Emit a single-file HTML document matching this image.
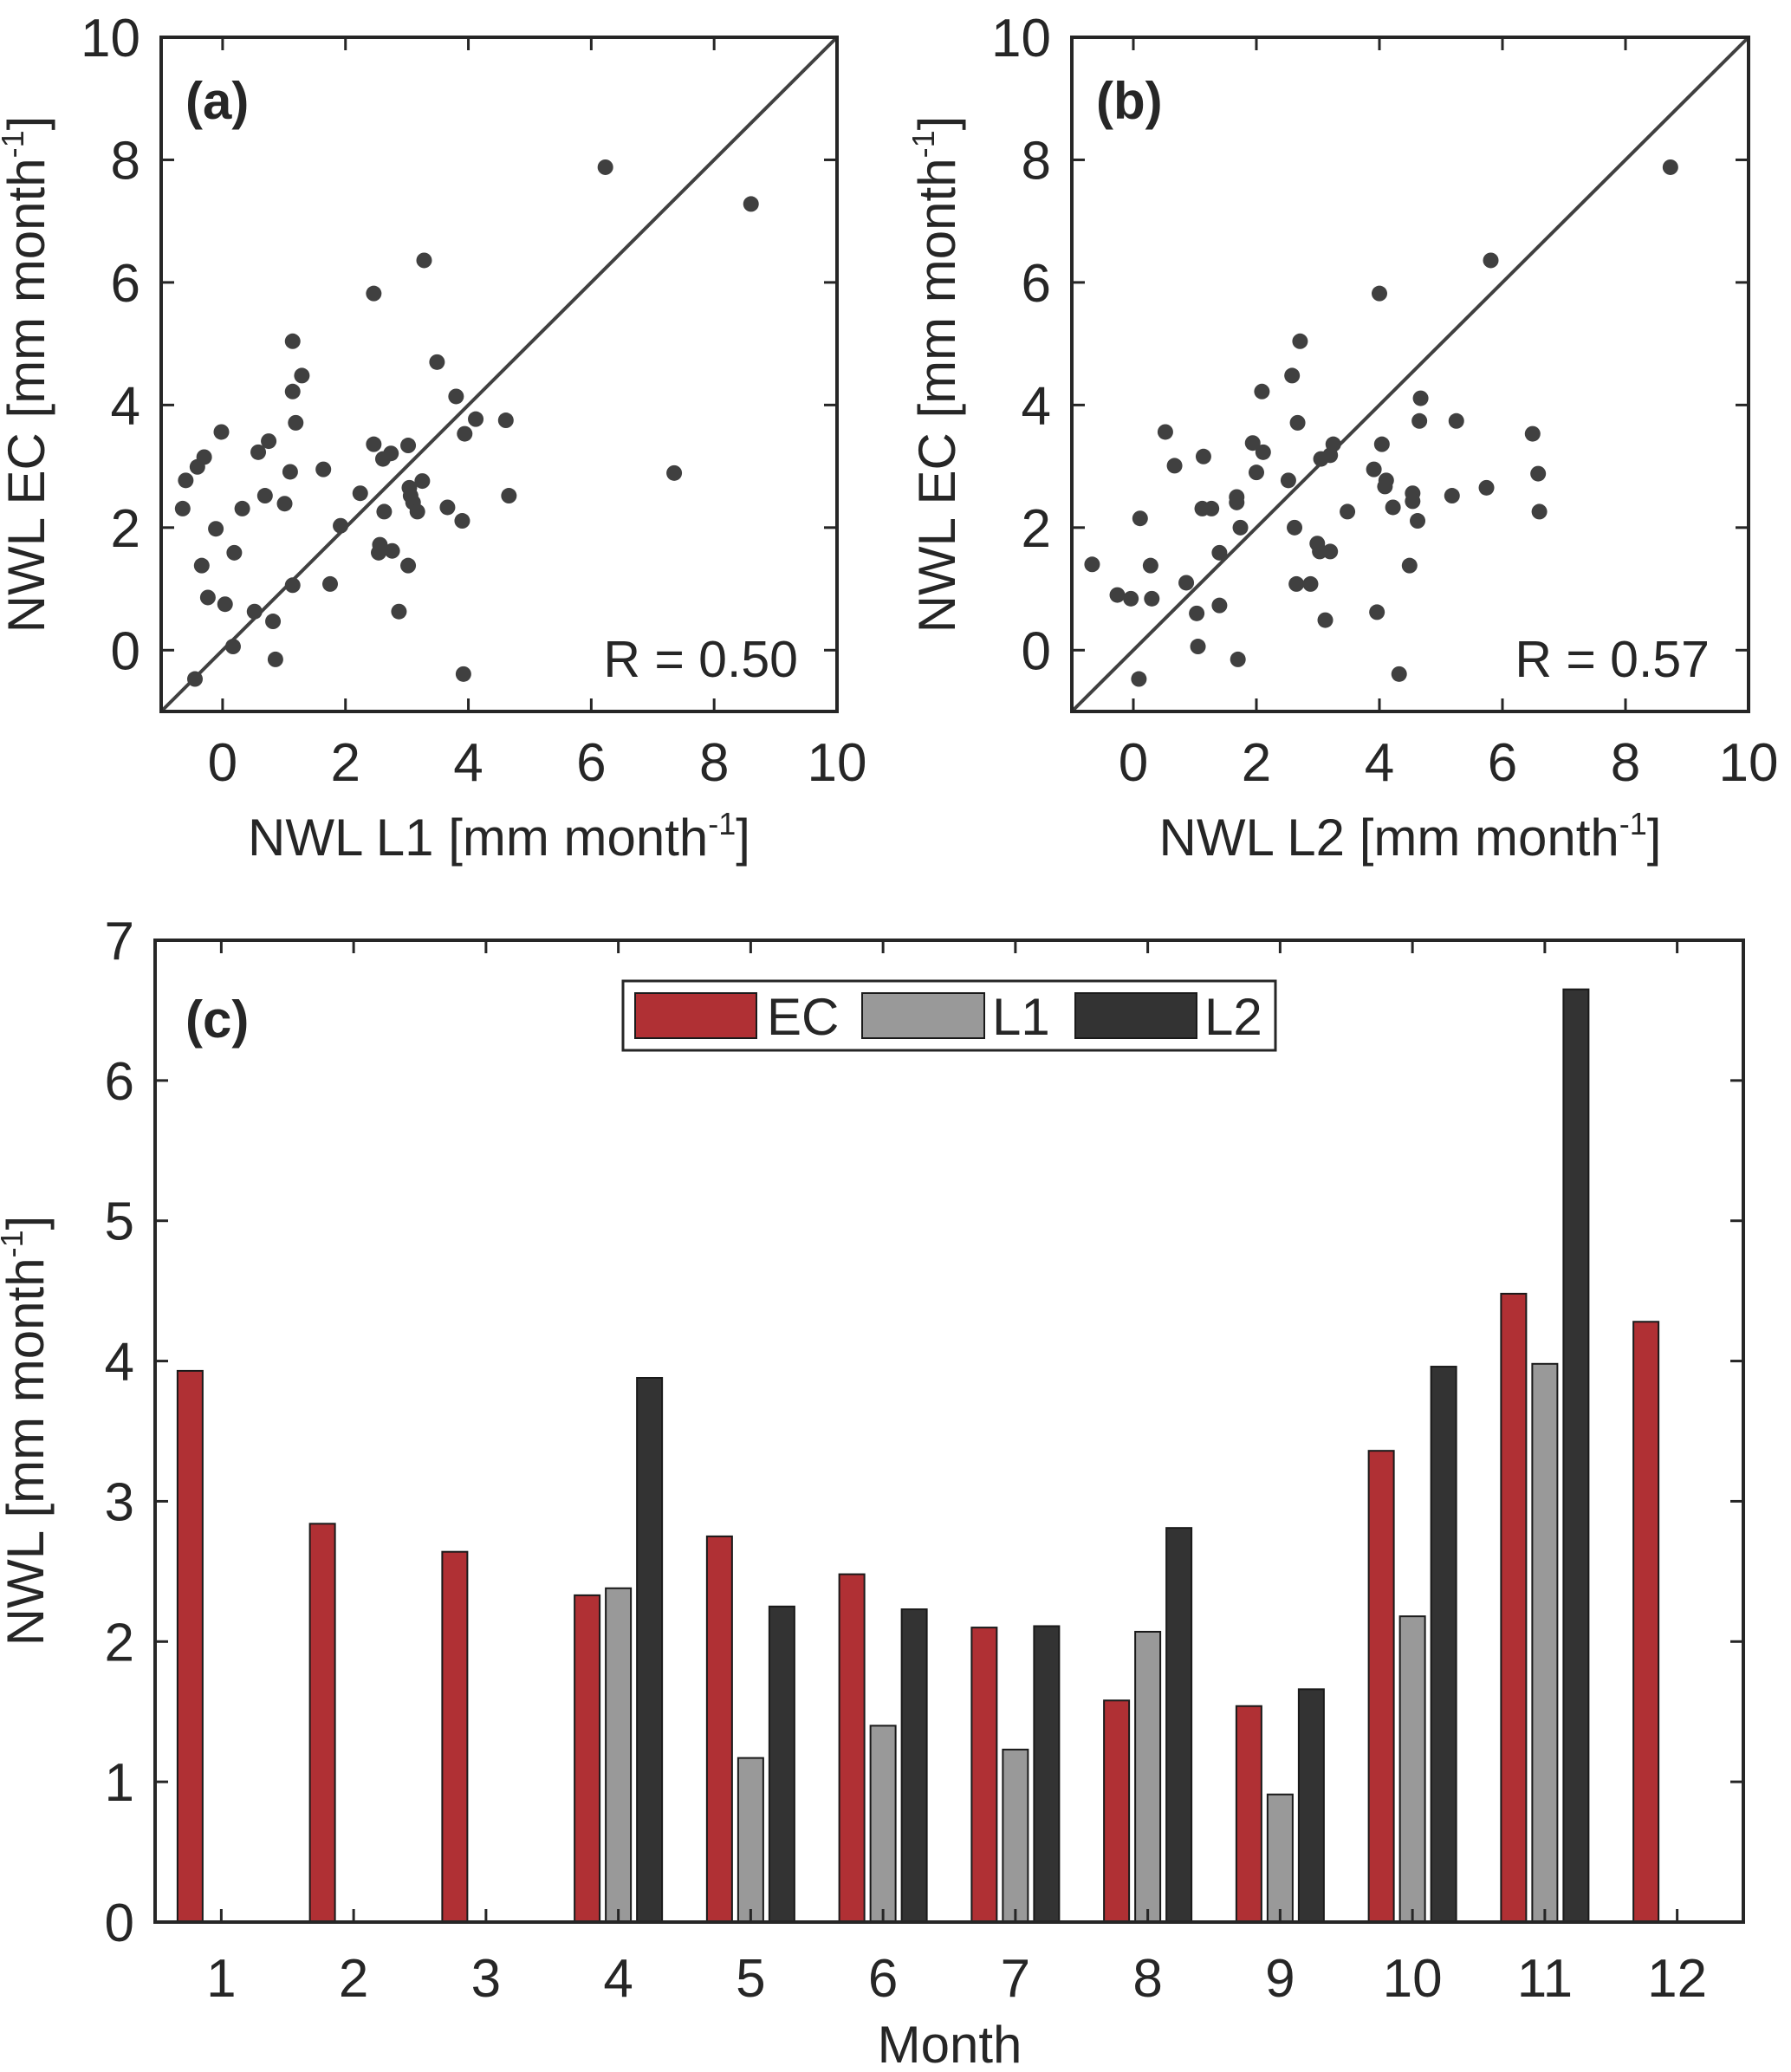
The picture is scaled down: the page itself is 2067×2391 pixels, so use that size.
<!DOCTYPE html>
<html><head><meta charset="utf-8"><style>
html,body{margin:0;padding:0;background:#fff}
svg{display:block}
text{font-family:"Liberation Sans",sans-serif;fill:#262626}
</style></head><body>
<svg id="fig" width="2067" height="2391" viewBox="0 0 2067 2391" xmlns="http://www.w3.org/2000/svg"></svg>
<script>
const aL1=[6.23,8.6,7.35,3.28,2.46,1.14,1.29,1.14,1.19,3.49,3.8,4.12,3.94,4.61,4.66,3.66,3.9,-0.02,-0.3,-0.41,-0.6,-0.65,0.58,0.75,0.69,0.32,1.01,1.1,1.64,-0.11,0.19,-0.34,-0.24,0.04,0.52,0.82,0.86,0.17,-0.45,1.14,1.75,1.92,2.24,2.46,2.61,2.74,3.02,2.63,2.56,2.54,2.76,3.02,2.87,3.04,3.06,3.1,3.17,3.25,3.92];
const aEC=[7.88,7.28,2.89,6.36,5.82,5.04,4.48,4.22,3.71,4.70,4.14,3.77,3.53,3.75,2.52,2.33,2.11,3.56,3.15,2.99,2.77,2.31,3.23,3.41,2.52,2.31,2.39,2.91,2.95,1.98,1.59,1.38,0.86,0.75,0.63,0.47,-0.15,0.06,-0.47,1.06,1.08,2.03,2.56,3.36,3.12,3.21,3.34,2.26,1.72,1.59,1.62,1.38,0.63,2.65,2.52,2.41,2.26,2.76,-0.39];
const bL2=[8.73,5.81,4.0,2.71,2.58,2.09,2.67,4.67,4.65,5.25,6.49,4.04,3.25,3.2,3.05,1.94,2.11,2.52,2.0,3.91,4.11,4.09,4.54,4.54,4.22,5.18,5.74,6.6,6.58,3.48,4.62,0.52,0.67,1.14,1.12,1.27,1.68,1.68,1.74,1.4,0.86,1.03,1.4,1.05,1.7,0.11,0.28,0.3,-0.67,-0.26,-0.04,0.09,2.62,2.65,2.88,2.99,3.03,3.2,3.12,3.96,4.49,4.32];
const bEC=[7.88,6.36,5.82,5.04,4.48,4.22,3.71,4.11,3.74,3.74,3.53,3.36,3.36,3.18,3.12,3.38,3.23,2.77,2.9,2.95,2.77,2.67,2.56,2.43,2.33,2.52,2.65,2.26,2.88,2.26,2.11,3.56,3.01,3.16,2.31,2.31,2.5,2.41,2.0,1.59,1.1,0.6,0.73,0.06,-0.15,2.15,1.38,0.84,1.4,0.9,0.84,-0.47,2.0,1.08,1.08,1.74,1.61,1.61,0.49,0.62,1.38,-0.39];
const months=[1,2,3,4,5,6,7,8,9,10,11,12];
const ecVals=[3.93,2.84,2.64,2.33,2.75,2.48,2.10,1.58,1.54,3.36,4.48,4.28];
const l1Vals=[null,null,null,2.38,1.17,1.40,1.23,2.07,0.91,2.18,3.98,null];
const l2Vals=[null,null,null,3.88,2.25,2.23,2.11,2.81,1.66,3.96,6.65,null];
const scatTicks=[0,2,4,6,8,10];
const barYTicks=[0,1,2,3,4,5,6,7];

const svg=document.getElementById('fig');
const NS='http://www.w3.org/2000/svg';
function el(tag,attrs,parent){const e=document.createElementNS(NS,tag);for(const k in attrs)e.setAttribute(k,attrs[k]);(parent||svg).appendChild(e);return e;}
const INK='#262626';
const FS=62, TFS=60;

function scatter(name,L,R,T,B,xs,ys,xlab,lab,rtext){
  const g=el('g',{});
  
  
  const sx=v=>L+(v+1)/11*(R-L), sy=v=>B-(v+1)/11*(B-T);
  scatTicks.forEach(t=>{
    el('line',{x1:sx(t),x2:sx(t),y1:B,y2:B-15,stroke:INK,'stroke-width':3},g);
    el('line',{x1:sx(t),x2:sx(t),y1:T,y2:T+15,stroke:INK,'stroke-width':3},g);
    el('line',{x1:L,x2:L+15,y1:sy(t),y2:sy(t),stroke:INK,'stroke-width':3},g);
    el('line',{x1:R,x2:R-15,y1:sy(t),y2:sy(t),stroke:INK,'stroke-width':3},g);
    const xt=el('text',{x:sx(t),y:B+80,'font-size':FS,'text-anchor':'middle'},g);xt.textContent=t;
    
    
    const yt=el('text',{x:L-24,y:sy(t)+22,'font-size':FS,'text-anchor':'end'},g);yt.textContent=t;
    
    
  });
  const one=el('line',{x1:sx(-1),y1:sy(-1),x2:sx(10),y2:sy(10),stroke:'#404040','stroke-width':4},g);
  
  
  xs.forEach((x,i)=>{
    const c=el('circle',{cx:sx(x),cy:sy(ys[i]),r:9,fill:'#404040'},g);
    
    
  });
  const fr=el('rect',{x:L,y:T,width:R-L,height:B-T,fill:'none',stroke:INK,'stroke-width':4},g);
  
  
  const pl=el('text',{x:L+28,y:T+94,'font-size':60,'font-weight':'bold',fill:'#000'},g);pl.textContent=lab;
  
  
  const rt=el('text',{x:R-45,y:B-40,'font-size':59,'text-anchor':'end',fill:'#000'},g);rt.textContent=rtext;
  
  
  const xt=el('text',{x:(L+R)/2,y:987,'font-size':TFS,'text-anchor':'middle'},g);
  xt.innerHTML=xlab+' [mm month<tspan dy="-24" font-size="36">-1</tspan><tspan dy="24">]</tspan>';
  
  
  const yx=L-135, yc=(T+B)/2;
  const yt=el('text',{x:yx,y:yc,'font-size':TFS,'text-anchor':'middle',transform:`rotate(-90 ${yx} ${yc})`},g);
  yt.innerHTML='NWL EC [mm month<tspan dy="-24" font-size="36">-1</tspan><tspan dy="24">]</tspan>';
  
  
}
scatter('panel-a-scatter',186,966,43,821,aL1,aEC,'NWL L1','(a)','R = 0.50');
scatter('panel-b-scatter',1237,2018,43,821,bL2,bEC,'NWL L2','(b)','R = 0.57');

(function(){
  const L=179,R=2012,T=1085,B=2218;
  const g=el('g',{});
  
  
  const sx=m=>L+(m-0.5)/12*(R-L), sy=v=>B-v/7*(B-T);
  const bw=29, off=36;
  const series=[[ecVals,'#b03034',-off,'bar-ec'],[l1Vals,'#999999',0,'bar-l1'],[l2Vals,'#333333',off,'bar-l2']];
  series.forEach(([vals,col,o,nm])=>{
    vals.forEach((v,i)=>{
      if(v==null)return;
      const r=el('rect',{x:sx(months[i])+o-bw/2,y:sy(v),width:bw,height:sy(0)-sy(v),fill:col,stroke:'#1a1a1a','stroke-width':2},g);
      
      
    });
  });
  months.forEach(m=>{
    el('line',{x1:sx(m),x2:sx(m),y1:B,y2:B-15,stroke:INK,'stroke-width':3},g);
    el('line',{x1:sx(m),x2:sx(m),y1:T,y2:T+15,stroke:INK,'stroke-width':3},g);
    const t=el('text',{x:sx(m),y:2304,'font-size':FS,'text-anchor':'middle'},g);t.textContent=m;
    
    
  });
  barYTicks.forEach(v=>{
    el('line',{x1:L,x2:L+15,y1:sy(v),y2:sy(v),stroke:INK,'stroke-width':3},g);
    el('line',{x1:R,x2:R-15,y1:sy(v),y2:sy(v),stroke:INK,'stroke-width':3},g);
    const t=el('text',{x:155,y:sy(v)+22,'font-size':FS,'text-anchor':'end'},g);t.textContent=v;
    
    
  });
  const fr=el('rect',{x:L,y:T,width:R-L,height:B-T,fill:'none',stroke:INK,'stroke-width':4},g);
  
  
  const pl=el('text',{x:214,y:1197,'font-size':60,'font-weight':'bold',fill:'#000'},g);pl.textContent='(c)';
  
  
  const lg=el('g',{},g);
  
  
  el('rect',{x:719,y:1132,width:753,height:80,fill:'#fff',stroke:'#262626','stroke-width':3},lg);
  [[733,873,'#b03034','EC',885],[995,1136,'#999999','L1',1145],[1241,1381,'#333333','L2',1390]].forEach(([x,x2,c,t,tx])=>{
    const e=el('g',{},lg);
    
    
    el('rect',{x:x,y:1146,width:x2-x,height:52,fill:c,stroke:'#1a1a1a','stroke-width':2},e);
    const tt=el('text',{x:tx,y:1194,'font-size':60,fill:'#000'},e);tt.textContent=t;
  });
  const xt=el('text',{x:1096,y:2380,'font-size':TFS,'text-anchor':'middle'},g);xt.textContent='Month';
  
  
  const yx=50,yc=1651;
  const yt=el('text',{x:yx,y:yc,'font-size':TFS,'text-anchor':'middle',transform:`rotate(-90 ${yx} ${yc})`},g);
  yt.innerHTML='NWL [mm month<tspan dy="-24" font-size="36">-1</tspan><tspan dy="24">]</tspan>';
  
  
})();
</script>
</body></html>
